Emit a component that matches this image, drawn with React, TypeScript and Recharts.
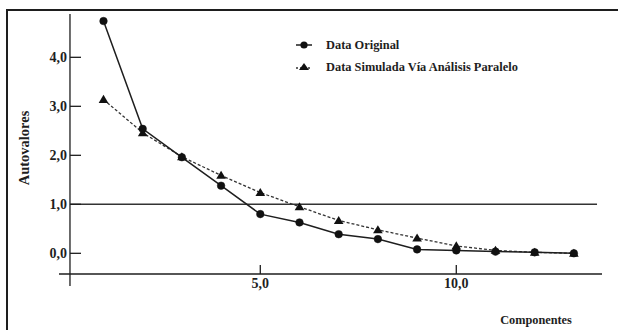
import React from 'react';
import { LineChart, Line, XAxis, YAxis, ReferenceLine } from 'recharts';

const components = [1, 2, 3, 4, 5, 6, 7, 8, 9, 10, 11, 12, 13];
const original = [4.74, 2.54, 1.96, 1.38, 0.8, 0.63, 0.39, 0.29, 0.08, 0.06, 0.035, 0.02, 0.0];
const simulated = [3.14, 2.46, 1.97, 1.59, 1.24, 0.95, 0.67, 0.48, 0.31, 0.15, 0.06, 0.02, 0.0];
const xTicks = [5, 10];
const yTicks = [0, 1, 2, 3, 4];
const seriesNames = ['Data Original', 'Data Simulada Vía Análisis Paralelo'];

const data = components.map((c, i) => ({ x: c, orig: original[i], sim: simulated[i] }));

const FONT = '"Liberation Serif", "Times New Roman", serif';
const INK = '#1e1e1e';

const fmt = (v: number) => v.toFixed(1).replace('.', ',');

const XTick = (props: any) => {
  const { x, y, payload } = props;
  return (
    <g>
      <line x1={x} x2={x} y1={y - 21} y2={y - 12} stroke={INK} strokeWidth={1.3} />
      <text x={x} y={y + 2} textAnchor="middle" fontFamily={FONT} fontWeight="bold" fontSize={14} fill={INK}>
        {fmt(payload.value)}
      </text>
    </g>
  );
};

const YTick = (props: any) => {
  const { x, y, payload } = props;
  return (
    <g>
      <line x1={x + 11} x2={x + 22} y1={y} y2={y} stroke={INK} strokeWidth={1.3} />
      <text x={x + 8} y={y + 5} textAnchor="end" fontFamily={FONT} fontWeight="bold" fontSize={14} fill={INK}>
        {fmt(payload.value)}
      </text>
    </g>
  );
};

const CircleDot = (props: any) => {
  const { cx, cy, index } = props;
  if (cx == null || cy == null) return <g key={index} />;
  return <circle key={index} cx={cx} cy={cy} r={3.8} fill="#111" stroke="#111" strokeWidth={0.5} />;
};

const TriangleDot = (props: any) => {
  const { cx, cy, index } = props;
  if (cx == null || cy == null) return <g key={index} />;
  const s = 4.6;
  return (
    <polygon
      key={index}
      points={`${cx},${cy - s} ${cx - s * 1.05},${cy + s * 0.75} ${cx + s * 1.05},${cy + s * 0.75}`}
      fill="#111"
    />
  );
};

const LegendBox = () => (
  <div
    style={{
      position: 'absolute',
      left: 296,
      top: 34,
      fontFamily: FONT,
      fontWeight: 'bold',
      fontSize: 12.4,
      color: INK,
    }}
  >
    {seriesNames.map((name, i) => (
      <div key={name} style={{ display: 'flex', alignItems: 'center', height: 22 }}>
        <svg width={30} height={14} style={{ display: 'block' }}>
          {i === 0 ? (
            <>
              <line x1={0} x2={16} y1={7} y2={7} stroke={INK} strokeWidth={1.5} />
              <circle cx={8} cy={7} r={3.6} fill="#111" />
            </>
          ) : (
            <>
              <line x1={0} x2={16} y1={8} y2={8} stroke="#333" strokeWidth={1.3} strokeDasharray="2 2" />
              <polygon points="8,3 3,10 13,10" fill="#111" />
            </>
          )}
        </svg>
        <span style={{ whiteSpace: 'nowrap' }}>{name}</span>
      </div>
    ))}
  </div>
);

export default function App() {
  return (
    <div style={{ position: 'absolute', left: 0, top: 0, width: 618, height: 330, overflow: 'hidden', background: '#fff' }}>
      <LineChart
        width={618}
        height={330}
        data={data}
        margin={{ top: 14, left: 58, right: 16, bottom: 43 }}
        style={{ position: 'absolute', left: 0, top: 0 }}
      >
        <XAxis
          type="number"
          dataKey="x"
          domain={[-0.135, 13.717]}
          allowDataOverflow
          ticks={xTicks}
          height={1}
          tickSize={0}
          tickMargin={0}
          axisLine={false}
          tickLine={false}
          tick={<XTick />}
          interval={0}
        />
        <YAxis
          type="number"
          domain={[-0.667, 4.884]}
          allowDataOverflow
          ticks={yTicks}
          width={1}
          tickSize={0}
          tickMargin={0}
          axisLine={false}
          tickLine={false}
          tick={<YTick />}
          interval={0}
        />
        <ReferenceLine x={0.145} stroke={INK} strokeWidth={1.3} />
        <ReferenceLine y={-0.422} stroke={INK} strokeWidth={1.3} />
        <ReferenceLine
          segment={[
            { x: 0.145, y: 1 },
            { x: 13.59, y: 1 },
          ]}
          stroke="#333"
          strokeWidth={1.5}
        />
        <Line
          type="linear"
          dataKey="sim"
          name={seriesNames[1]}
          stroke="#333"
          strokeWidth={1.3}
          strokeDasharray="3 2"
          dot={<TriangleDot />}
          isAnimationActive={false}
        />
        <Line
          type="linear"
          dataKey="orig"
          name={seriesNames[0]}
          stroke={INK}
          strokeWidth={1.5}
          dot={<CircleDot />}
          isAnimationActive={false}
        />
      </LineChart>
      <LegendBox />
      <div
        style={{
          position: 'absolute',
          left: 24,
          top: 148,
          transform: 'translate(-50%, -50%) rotate(-90deg)',
          fontFamily: FONT,
          fontWeight: 'bold',
          fontSize: 14.5,
          color: INK,
          whiteSpace: 'nowrap',
        }}
      >
        Autovalores
      </div>
      <div
        style={{
          position: 'absolute',
          left: 536,
          top: 320,
          transform: 'translate(-50%, -50%)',
          fontFamily: FONT,
          fontWeight: 'bold',
          fontSize: 12.3,
          color: INK,
          whiteSpace: 'nowrap',
        }}
      >
        Componentes
      </div>
      <div
        style={{
          position: 'absolute',
          left: 6,
          top: 9,
          width: 700,
          height: 400,
          boxSizing: 'border-box',
          borderTop: `2.5px solid ${INK}`,
          borderLeft: `2.5px solid ${INK}`,
          pointerEvents: 'none',
          zIndex: 5,
        }}
      />
    </div>
  );
}
